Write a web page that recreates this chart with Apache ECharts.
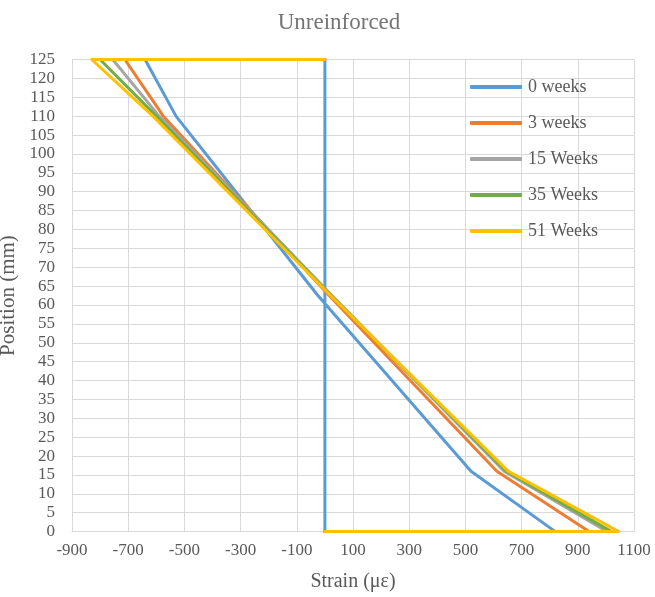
<!DOCTYPE html>
<html>
<head>
<meta charset="utf-8">
<script src="https://cdn.jsdelivr.net/npm/echarts@6/dist/echarts.min.js"></script>
<style>
  html, body { margin: 0; padding: 0; background: #fff; }
  #chart { width: 655px; height: 597px; }
</style>
</head>
<body>
<div id="chart"></div>
<script>
// Strain profile through the depth of the unreinforced section.
// Each profile is a closed outline: along the top face, down the strain
// distribution, back along the bottom face to zero strain.
const seriesNames = ['0 weeks', '3 weeks', '15 Weeks', '35 Weeks', '51 Weeks'];
const seriesColors = ['#5B9BD5', '#ED7D31', '#A5A5A5', '#70AD47', '#FFC000'];

// Positions (mm) where the strain profile is sampled
const positions = [125, 110, 62.5, 16, 0];

// Strain (με) at each position, per age
const strain0wk  = [-640, -530, -25, 520, 820];
const strain3wk  = [-712, -575, 15, 612, 940];
const strain15wk = [-755, -590, 25, 638, 1005];
const strain35wk = [-800, -600, 22, 645, 1020];
const strain51wk = [-830, -612, 20, 652, 1046];

// Axis ranges / ticks
const xTicks = { min: -900, max: 1100, interval: 200 };
const yTicks = { min: 0, max: 125, interval: 5 };

const FONT = '"Liberation Serif", "Times New Roman", serif';
const TEXT = '#595959';
const GRID = '#D9D9D9';

function outline(values, withZeroEdge) {
  const pts = [];
  if (withZeroEdge) pts.push([0, 0]);
  pts.push([0, positions[0]]);
  values.forEach((v, i) => pts.push([v, positions[i]]));
  pts.push([0, 0]);
  return pts;
}

const profiles = [
  outline(strain0wk, true),
  outline(strain3wk, false),
  outline(strain15wk, false),
  outline(strain35wk, false),
  outline(strain51wk, false)
];

const chart = echarts.init(document.getElementById('chart'), null, { renderer: 'canvas' });

chart.setOption({
  animation: false,
  backgroundColor: '#fff',
  title: {
    text: 'Unreinforced',
    left: 334,
    top: 6,
    textAlign: 'center',
    textStyle: { fontFamily: FONT, fontSize: 23, fontWeight: 'normal', color: '#757575' }
  },
  legend: {
    orient: 'vertical',
    left: 470,
    top: 78,
    padding: 0,
    itemWidth: 52,
    itemHeight: 4,
    itemGap: 18,
    icon: 'roundRect',
    data: seriesNames,
    textStyle: { fontFamily: FONT, fontSize: 18, color: TEXT, lineHeight: 18, padding: [0, 0, 0, 1] }
  },
  grid: { left: 72, right: 21, top: 59.5, bottom: 65.4, containLabel: false, outerBoundsMode: 'none' },
  xAxis: {
    type: 'value',
    min: xTicks.min,
    max: xTicks.max,
    interval: xTicks.interval,
    name: 'Strain (με)',
    nameLocation: 'middle',
    nameGap: 40,
    nameTextStyle: { fontFamily: FONT, fontSize: 20, color: TEXT },
    axisLine: { show: true, onZero: false, lineStyle: { color: GRID, width: 1 } },
    axisTick: { show: false },
    axisLabel: { fontFamily: FONT, fontSize: 17, color: TEXT, margin: 10, formatter: v => String(v) },
    splitLine: { show: true, lineStyle: { color: GRID, width: 1 } }
  },
  yAxis: {
    type: 'value',
    min: yTicks.min,
    max: yTicks.max,
    interval: yTicks.interval,
    name: 'Position (mm)',
    nameLocation: 'middle',
    nameGap: 47,
    nameTextStyle: { fontFamily: FONT, fontSize: 21, color: TEXT },
    axisLine: { show: true, onZero: false, lineStyle: { color: GRID, width: 1 } },
    axisTick: { show: false },
    axisLabel: { fontFamily: FONT, fontSize: 17, color: TEXT, margin: 17, formatter: v => String(v) },
    splitLine: { show: true, lineStyle: { color: GRID, width: 1 } }
  },
  series: profiles.map((data, i) => ({
    name: seriesNames[i],
    type: 'line',
    data: data,
    symbol: 'none',
    showSymbol: false,
    clip: false,
    color: seriesColors[i],
    lineStyle: { color: seriesColors[i], width: 3, cap: 'round', join: 'round' },
    z: 2 + i
  }))
});
</script>
</body>
</html>
